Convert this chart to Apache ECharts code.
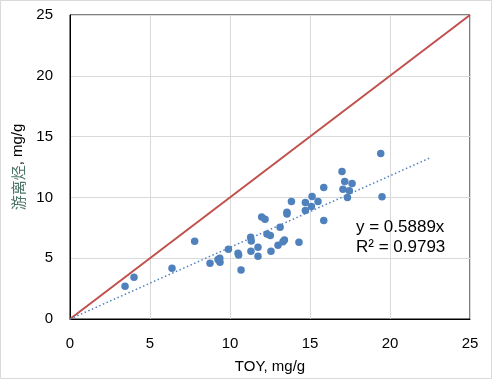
<!DOCTYPE html>
<html>
<head>
<meta charset="utf-8">
<script src="https://cdn.jsdelivr.net/npm/echarts@6/dist/echarts.min.js"></script>
<style>
html,body{margin:0;padding:0;background:#fff;}
#chart{width:492px;height:379px;}
</style>
</head>
<body>
<div id="chart"></div>
<script>
// TOY (x) vs 游离烃 (y), mg/g
var toyValues = [3.44,4.0,6.375,7.79,8.75,9.25,9.31,9.36,9.375,9.9,10.5,10.54,10.69,11.29,11.33,11.31,11.75,11.75,11.98,12.19,12.31,12.52,12.56,13.0,13.13,13.31,13.4,13.56,13.56,13.84,14.31,14.71,14.71,15.09,15.13,15.5,15.86,15.86,17.0,17.17,17.06,17.46,17.63,17.34,19.42,19.5];
var hcValues  = [2.70,3.44,4.18,6.39,4.59,4.90,4.84,5.0,4.67,5.74,5.40,5.27,4.02,6.72,6.42,5.57,5.90,5.16,8.39,8.20,6.99,6.86,5.57,6.06,7.54,6.36,6.50,8.77,8.63,9.67,6.31,9.59,8.93,9.26,10.08,9.67,10.82,8.11,12.13,11.31,10.66,10.54,11.15,10.0,13.6,10.05];
var slope = 0.5889;
var trendRange = [0, 22.5];
var identityRange = [0, 25];
var axisTicks = [0, 5, 10, 15, 20, 25];
var eqLines = ['y = 0.5889x', 'R² = 0.9793'];

var points = toyValues.map(function(v, i){ return [v, hcValues[i]]; });
var trend = trendRange.map(function(x){ return [x, slope * x]; });
var identity = identityRange.map(function(x){ return [x, x]; });

var font = '"Liberation Sans", Arial, sans-serif';
var chart = echarts.init(document.getElementById('chart'), null, {renderer:'canvas'});
chart.setOption({
  animation:false,
  backgroundColor:'#fff',
  grid:{left:70, right:22, top:15, bottom:59, show:true, borderColor:'#000', borderWidth:1, backgroundColor:'transparent'},
  xAxis:{
    type:'value', min:axisTicks[0], max:axisTicks[axisTicks.length-1], interval:5,
    name:'TOY, mg/g', nameLocation:'middle', nameGap:40,
    nameTextStyle:{fontFamily:font, fontSize:15, color:'#000'},
    axisLine:{show:true, lineStyle:{color:'#000', width:1}},
    axisTick:{show:false},
    axisLabel:{fontFamily:font, fontSize:15, color:'#000', margin:17},
    splitLine:{show:true, lineStyle:{color:'#d9d9d9', width:1}}
  },
  yAxis:{
    type:'value', min:axisTicks[0], max:axisTicks[axisTicks.length-1], interval:5,
    name:'{cn|游离烃}{en|, mg/g}', nameLocation:'middle', nameGap:44,
    nameTextStyle:{fontFamily:font, fontSize:15, color:'#000',
      rich:{cn:{fontFamily:'"Noto Sans CJK SC", sans-serif', fontSize:15, color:'#4c7566'}, en:{fontFamily:font, fontSize:15, color:'#000'}}},
    axisLine:{show:true, lineStyle:{color:'#000', width:1}},
    axisTick:{show:false},
    axisLabel:{fontFamily:font, fontSize:15, color:'#000', margin:17},
    splitLine:{show:true, lineStyle:{color:'#d9d9d9', width:1}}
  },
  series:[
    {type:'line', data:identity, symbol:'none', lineStyle:{color:'#C0504D', width:2}, z:2, silent:true},
    {type:'line', data:trend, symbol:'none', lineStyle:{color:'#4F81BD', width:1.5, type:[1.5,2.5]}, z:3, silent:true},
    {type:'scatter', data:points, symbol:'circle', symbolSize:7.5, itemStyle:{color:'#4F81BD', opacity:1}, z:4}
  ],
  graphic:[
    {type:'text', left:356, top:217, style:{text:eqLines.join('\n'), fontFamily:font, fontSize:17, lineHeight:20, fill:'#000'}, z:10},
    {type:'rect', shape:{x:0.5, y:0.5, width:491, height:378}, style:{fill:'none', stroke:'#d9d9d9', lineWidth:1}, z:10, silent:true}
  ]
});
</script>
</body>
</html>
